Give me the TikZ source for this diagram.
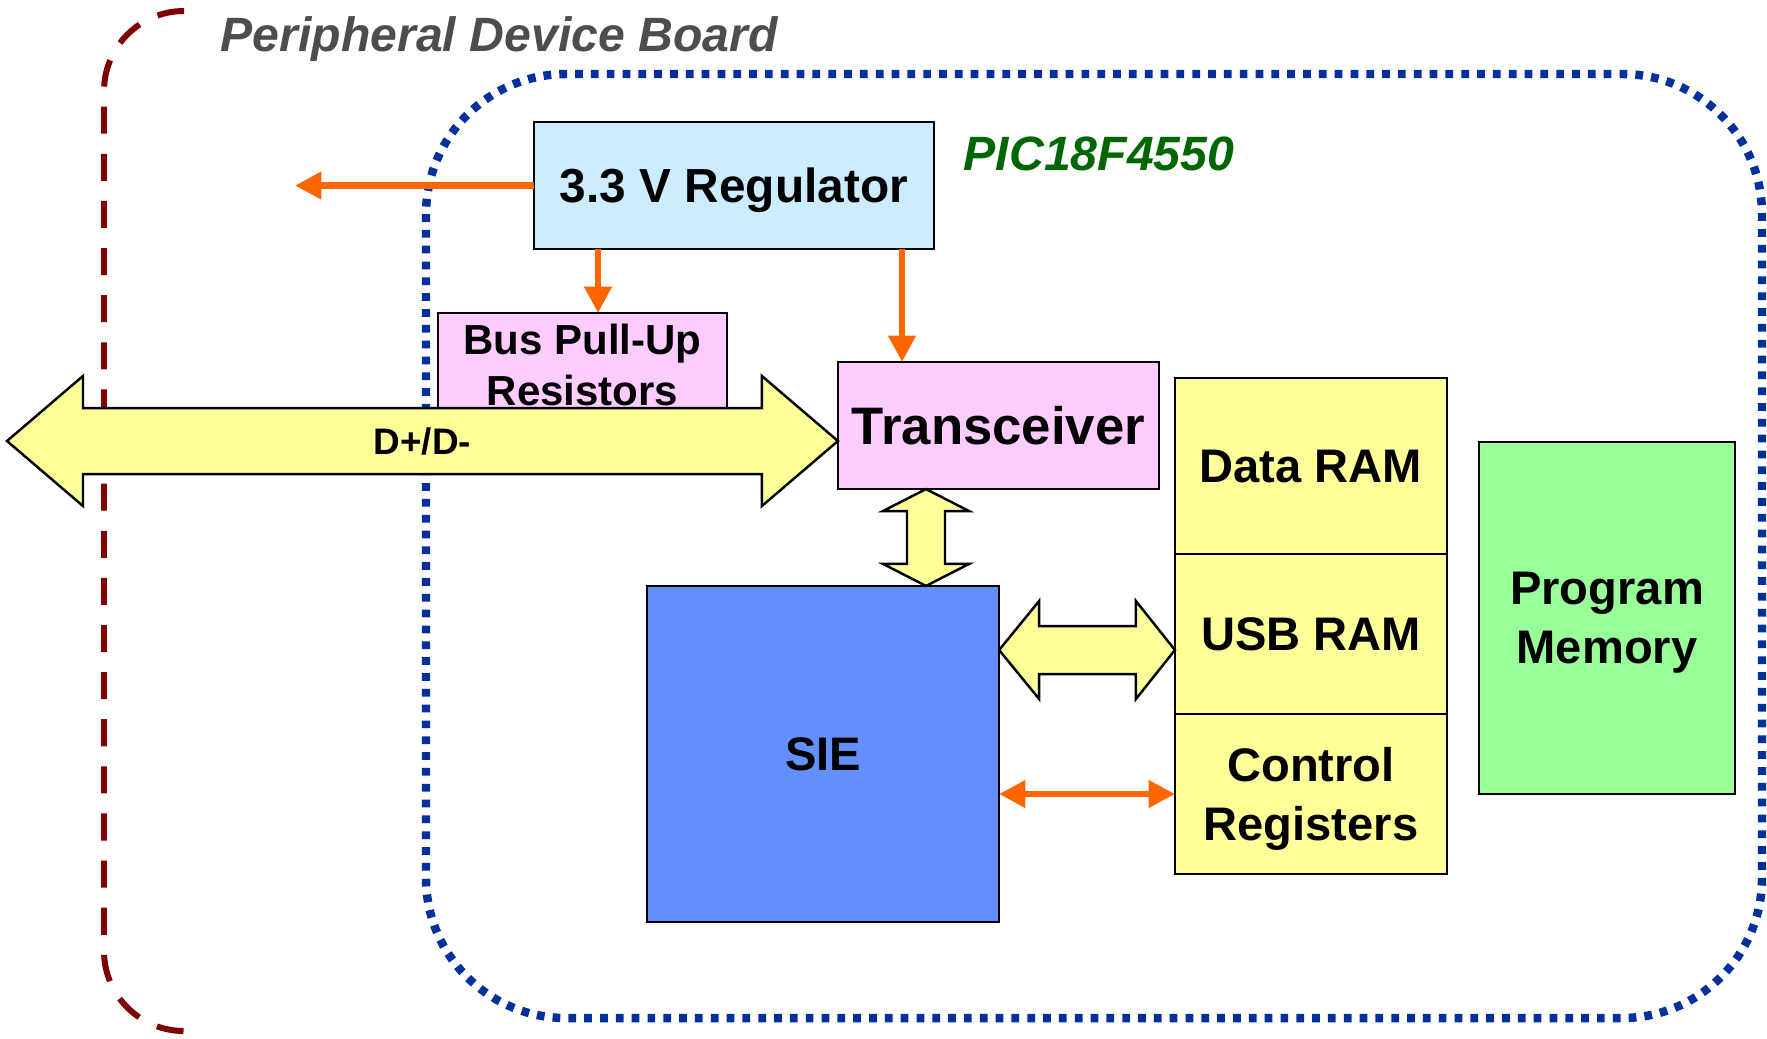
\documentclass[tikz,border=0pt]{standalone}
\usepackage{fontspec}
\setmainfont{Liberation Sans}
\usetikzlibrary{positioning,arrows.meta,calc}
\definecolor{regblue}{HTML}{CCECFF}
\definecolor{pinkbox}{HTML}{FFCCFF}
\definecolor{busyel}{HTML}{FFFF99}
\definecolor{sieblue}{HTML}{6490FF}
\definecolor{pmgreen}{HTML}{99FF99}
\definecolor{pwrorange}{HTML}{FF6600}
\definecolor{chipblue}{HTML}{00309C}
\definecolor{boardred}{HTML}{800000}
\definecolor{boardgray}{HTML}{4D4D4D}
\definecolor{picgreen}{HTML}{006600}

\begin{document}
\begin{tikzpicture}[x=0.01cm,y=-0.01cm,
  every node/.style={font=\bfseries},
  blk/.style={draw,line width=0.7pt,outer sep=0pt,inner sep=0pt,align=center,text depth=0pt,
    font=\bfseries\fontsize{13.4}{16.8}\selectfont},
  bus/.style={draw,line width=0.7pt,fill=busyel},
  pwr/.style={pwrorange,line width=1.8pt,-{Triangle[length=7.5pt,width=7.5pt]}},
  pwrboth/.style={pwrorange,line width=1.8pt,{Triangle[length=7.5pt,width=7.5pt]}-{Triangle[length=7.5pt,width=7.5pt]}},
  ttl/.style={anchor=west,inner sep=0pt,font=\bfseries\itshape\fontsize{13.7}{16}\selectfont}]
\useasboundingbox (0,0) rectangle (1767,1038);
\draw[boardred,line width=1.7pt,dash pattern=on 7.7pt off 5.7pt,rounded corners=0.8cm]
  (184,11) -- (104,11) -- (104,1031) -- (184,1031);
\draw[chipblue,line width=2.4pt,dash pattern=on 2.2pt off 2.3pt,rounded corners=1.4cm]
  (426,74) rectangle (1762,1018);
\node[ttl,text=boardgray] (board) at (220,39) {Peripheral Device Board};
\node[ttl,text=picgreen] (pic) at (963,154) {PIC18F4550};

\node[blk,fill=regblue,minimum width=4cm,minimum height=1.27cm,
  font=\bfseries\fontsize{13.6}{16}\selectfont] (reg) at (734,185.5) {3.3 V Regulator};
\node[blk,fill=pinkbox,minimum width=2.89cm,minimum height=1.03cm,
  font=\bfseries\fontsize{11.95}{14.5}\selectfont] (pullup) at (582.5,364.5) {Bus Pull-Up\\Resistors};
\node[blk,fill=pinkbox,minimum width=3.21cm,minimum height=1.27cm,
  font=\bfseries\fontsize{15}{18}\selectfont] (xcvr) at (998.5,425.5) {Transceiver};
\node[blk,fill=sieblue,minimum width=3.52cm,minimum height=3.36cm] (sie) at (823,754) {SIE};
\node[blk,fill=busyel,minimum width=2.72cm,minimum height=1.76cm] (dram) at (1311,466) {Data RAM};
\node[blk,fill=busyel,minimum width=2.72cm,minimum height=1.6cm,below=0pt of dram] (uram) {USB RAM};
\node[blk,fill=busyel,minimum width=2.72cm,minimum height=1.6cm,below=0pt of uram] (creg) {Control\\Registers};
\node[blk,fill=pmgreen,minimum width=2.56cm,minimum height=3.52cm] (pmem) at (1607,618) {Program\\Memory};

\coordinate (dpL) at (7,441);
\coordinate (dpR) at (xcvr.west |- dpL);
\draw[bus] (dpL) -- ++(76,-65) -- ++(0,32) -- ($(dpR)+(-76,-33)$) -- ++(0,-32) -- (dpR)
  -- ++(-76,65) -- ++(0,-32) -- ($(dpL)+(76,33)$) -- ++(0,32) -- cycle;
\node[font=\bfseries\fontsize{10.5}{12}\selectfont] (dplbl) at ($(dpL)!0.5!(dpR)$) {D+/D-};

\coordinate (vx) at (926,0);
\coordinate (vT) at (vx |- xcvr.south);
\coordinate (vB) at (vx |- sie.north);
\draw[bus] (vT) -- ++(43,22) -- ++(-24,0) -- ($(vB)+(19,-22)$) -- ++(24,0) -- (vB)
  -- ++(-43,-22) -- ++(24,0) -- ($(vT)+(-19,22)$) -- ++(-24,0) -- cycle;

\coordinate (hy) at (0,650);
\coordinate (hL) at (sie.east |- hy);
\coordinate (hR) at (uram.west |- hy);
\draw[bus] (hL) -- ++(40,-49) -- ++(0,25) -- ($(hR)+(-39,-24)$) -- ++(0,-25) -- (hR)
  -- ++(-39,49) -- ++(0,-25) -- ($(hL)+(40,24)$) -- ++(0,25) -- cycle;

\coordinate (pwrout) at (295,185.5);
\coordinate (pa) at (598,0);
\coordinate (pb) at (902,0);
\coordinate (cy) at (0,794);
\draw[pwr] (reg.west) -- (pwrout);
\draw[pwr] (pa |- reg.south) -- (pa |- pullup.north);
\draw[pwr] (pb |- reg.south) -- (pb |- xcvr.north);
\draw[pwrboth] (sie.east |- cy) -- (creg.west |- cy);
\end{tikzpicture}
\end{document}
